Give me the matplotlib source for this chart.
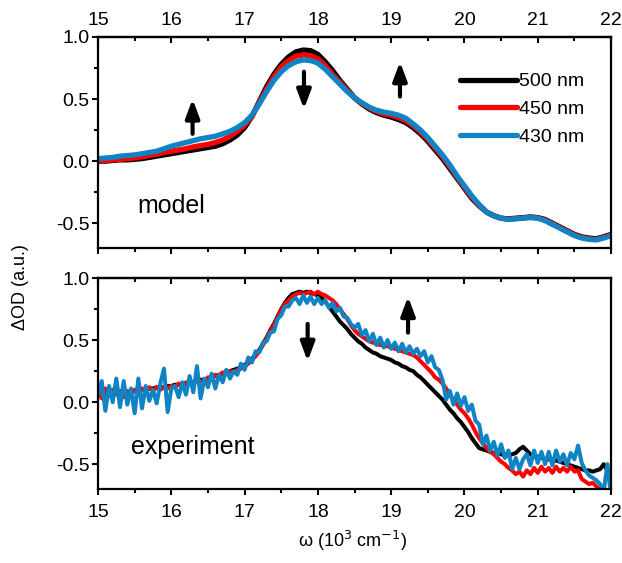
import numpy as np
import matplotlib.pyplot as plt
from matplotlib.ticker import MultipleLocator

plt.rcParams['font.family'] = ['Liberation Sans', 'DejaVu Sans']

# model spectra, 0.1 steps from 15 to 22 (10^3 cm^-1)
model_500 = [0.00, 0.00, 0.005, 0.01, 0.01, 0.015, 0.02, 0.03, 0.04, 0.05,
             0.06, 0.07, 0.08, 0.09, 0.10, 0.11, 0.12, 0.14, 0.17, 0.21,
             0.27, 0.36, 0.48, 0.60, 0.70, 0.78, 0.84, 0.88, 0.895, 0.89,
             0.86, 0.80, 0.73, 0.65, 0.58, 0.51, 0.46, 0.42, 0.39, 0.37,
             0.355, 0.335, 0.31, 0.27, 0.22, 0.16, 0.09, 0.02, -0.06, -0.14,
             -0.22, -0.30, -0.36, -0.41, -0.44, -0.46, -0.465, -0.46, -0.455, -0.45,
             -0.455, -0.47, -0.50, -0.53, -0.56, -0.59, -0.61, -0.62, -0.625, -0.61,
             -0.59]
model_450 = [0.005, 0.005, 0.01, 0.015, 0.02, 0.025, 0.035, 0.045, 0.055, 0.07,
             0.08, 0.09, 0.10, 0.115, 0.125, 0.135, 0.15, 0.17, 0.20, 0.24,
             0.29, 0.36, 0.47, 0.58, 0.68, 0.76, 0.81, 0.845, 0.855, 0.85,
             0.825, 0.77, 0.70, 0.635, 0.57, 0.51, 0.465, 0.43, 0.40, 0.38,
             0.37, 0.35, 0.325, 0.285, 0.235, 0.175, 0.105, 0.035, -0.045, -0.13,
             -0.21, -0.29, -0.355, -0.41, -0.44, -0.46, -0.468, -0.463, -0.458, -0.453,
             -0.458, -0.475, -0.505, -0.535, -0.565, -0.595, -0.615, -0.625, -0.63, -0.615,
             -0.595]
model_430 = [0.02, 0.025, 0.03, 0.04, 0.045, 0.05, 0.06, 0.07, 0.08, 0.10,
             0.12, 0.135, 0.15, 0.165, 0.18, 0.19, 0.20, 0.22, 0.24, 0.27,
             0.31, 0.37, 0.46, 0.56, 0.65, 0.72, 0.77, 0.80, 0.815, 0.81,
             0.79, 0.74, 0.68, 0.62, 0.56, 0.51, 0.47, 0.435, 0.41, 0.395,
             0.385, 0.37, 0.345, 0.30, 0.25, 0.19, 0.12, 0.05, -0.03, -0.12,
             -0.20, -0.28, -0.35, -0.41, -0.44, -0.46, -0.47, -0.465, -0.46, -0.455,
             -0.46, -0.48, -0.51, -0.54, -0.57, -0.60, -0.62, -0.63, -0.635, -0.62,
             -0.60]
w_model = np.linspace(15, 22, len(model_500))

# measured spectra, 0.05 steps from 15 to 22
exp_500 = [0.08, 0.10, 0.07, 0.09, 0.08, 0.08, 0.09, 0.07, 0.08, 0.08,
           0.09, 0.09, 0.10, 0.10, 0.11, 0.11, 0.12, 0.12, 0.12, 0.13,
           0.13, 0.14, 0.14, 0.15, 0.15, 0.16, 0.16, 0.17, 0.18, 0.18,
           0.19, 0.20, 0.21, 0.22, 0.23, 0.24, 0.25, 0.26, 0.27, 0.28,
           0.30, 0.32, 0.35, 0.38, 0.42, 0.47, 0.52, 0.58, 0.63, 0.69,
           0.75, 0.80, 0.84, 0.87, 0.88, 0.89, 0.88, 0.89, 0.88, 0.87,
           0.86, 0.84, 0.81, 0.77, 0.73, 0.69, 0.65, 0.62, 0.59, 0.55,
           0.52, 0.49, 0.47, 0.44, 0.42, 0.40, 0.39, 0.37, 0.36, 0.35,
           0.34, 0.32, 0.31, 0.29, 0.28, 0.26, 0.25, 0.22, 0.20, 0.17,
           0.14, 0.11, 0.08, 0.05, 0.02, -0.02, -0.06, -0.09, -0.13, -0.16,
           -0.20, -0.24, -0.29, -0.33, -0.37, -0.38, -0.39, -0.40, -0.41, -0.42,
           -0.42, -0.43, -0.43, -0.42, -0.41, -0.38, -0.36, -0.39, -0.42, -0.44,
           -0.44, -0.45, -0.46, -0.46, -0.47, -0.47, -0.48, -0.49, -0.50, -0.51,
           -0.52, -0.53, -0.54, -0.55, -0.55, -0.56, -0.55, -0.54, -0.50, -0.55,
           -0.57]
exp_450 = [0.10, 0.03, 0.11, 0.05, 0.10, 0.06, 0.09, 0.04, 0.09, 0.06,
           0.10, 0.07, 0.11, 0.08, 0.12, 0.09, 0.12, 0.10, 0.12, 0.11,
           0.13, 0.12, 0.15, 0.12, 0.16, 0.15, 0.14, 0.18, 0.17, 0.16,
           0.20, 0.19, 0.22, 0.21, 0.24, 0.23, 0.25, 0.24, 0.26, 0.27,
           0.29, 0.31, 0.34, 0.37, 0.41, 0.46, 0.51, 0.57, 0.62, 0.68,
           0.74, 0.79, 0.82, 0.85, 0.87, 0.88, 0.87, 0.88, 0.89, 0.87,
           0.89, 0.87, 0.86, 0.84, 0.82, 0.79, 0.75, 0.71, 0.67, 0.62,
           0.58, 0.55, 0.53, 0.51, 0.49, 0.48, 0.47, 0.46, 0.46, 0.45,
           0.44, 0.43, 0.42, 0.41, 0.40, 0.39, 0.38, 0.36, 0.33, 0.30,
           0.27, 0.24, 0.20, 0.18, 0.15, 0.11, 0.06, 0.02, -0.02, -0.06,
           -0.09, -0.13, -0.18, -0.24, -0.29, -0.33, -0.37, -0.40, -0.42, -0.45,
           -0.48, -0.50, -0.53, -0.55, -0.58, -0.56, -0.60, -0.55, -0.58, -0.53,
           -0.57, -0.52, -0.56, -0.53, -0.57, -0.52, -0.56, -0.53, -0.56, -0.52,
           -0.56, -0.55, -0.62, -0.64, -0.66, -0.65, -0.68, -0.70, -0.72, -0.73,
           -0.74]
exp_430 = [0.05, 0.17, -0.07, 0.13, 0.00, 0.19, -0.04, 0.17, -0.02, 0.11,
           -0.09, 0.19, -0.05, 0.13, 0.01, 0.10, -0.01, 0.15, 0.27, -0.08,
           0.11, 0.13, 0.04, 0.16, 0.06, 0.21, 0.08, 0.29, 0.03, 0.19,
           0.12, 0.23, 0.11, 0.22, 0.16, 0.26, 0.19, 0.25, 0.22, 0.31,
           0.26, 0.36, 0.32, 0.41, 0.40, 0.48, 0.49, 0.56, 0.57, 0.67,
           0.70, 0.77, 0.77, 0.82, 0.84, 0.79, 0.86, 0.80, 0.85, 0.79,
           0.84, 0.79, 0.82, 0.76, 0.80, 0.73, 0.76, 0.69, 0.68, 0.63,
           0.60, 0.63, 0.54, 0.58, 0.49, 0.55, 0.46, 0.52, 0.44, 0.50,
           0.43, 0.48, 0.41, 0.47, 0.40, 0.45, 0.39, 0.43, 0.37, 0.41,
           0.32, 0.37, 0.28, 0.26, 0.18, 0.02, 0.09, -0.02, 0.07, -0.03,
           0.04, -0.07, -0.02, -0.15, -0.18, -0.34, -0.27, -0.39, -0.32, -0.43,
           -0.34, -0.45, -0.39, -0.54, -0.45, -0.54, -0.46, -0.42, -0.51, -0.39,
           -0.49, -0.40, -0.50, -0.40, -0.51, -0.39, -0.48, -0.42, -0.51, -0.41,
           -0.46, -0.35, -0.49, -0.55, -0.59, -0.61, -0.63, -0.66, -0.72, -0.50,
           -0.76]
w_exp = np.linspace(15, 22, len(exp_500))

labels = ["500 nm", "450 nm", "430 nm"]
colors = ["black", "#ff0000", "#0f84c4"]

fig = plt.figure(figsize=(6.22, 5.63), dpi=100)
ax1 = fig.add_axes([0.1576, 0.5595, 0.8248, 0.3748])
ax2 = fig.add_axes([0.1576, 0.1314, 0.8248, 0.3748])

for y, c, lab in zip([model_500, model_450, model_430], colors, labels):
    ax1.plot(w_model, y, color=c, lw=3.8, label=lab, solid_capstyle='round')
for y, c in zip([exp_500, exp_450, exp_430], colors):
    ax2.plot(w_exp, y, color=c, lw=2.9)

for ax in (ax1, ax2):
    ax.set_xlim(15, 22)
    ax.set_ylim(-0.7, 1.0)
    ax.xaxis.set_major_locator(MultipleLocator(1))
    ax.xaxis.set_minor_locator(MultipleLocator(0.5))
    ax.set_yticks([-0.5, 0.0, 0.5, 1.0])
    ax.set_yticklabels(["-0.5", "0.0", "0.5", "1.0"])
    ax.yaxis.set_minor_locator(MultipleLocator(0.25))
    for s in ax.spines.values():
        s.set_linewidth(1.6)
    ax.tick_params(axis='both', which='both', direction='out', width=1.5,
                   labelsize=14, top=False, right=False)
    ax.tick_params(axis='both', which='major', length=4.5)
    ax.tick_params(axis='both', which='minor', length=3)
    ax.tick_params(axis='y', pad=1.5)
    ax.tick_params(axis='x', pad=6)
    # inward ticks along the top edge
    top = ax.secondary_xaxis('top')
    top.xaxis.set_major_locator(MultipleLocator(1))
    top.xaxis.set_minor_locator(MultipleLocator(0.5))
    top.spines['top'].set_linewidth(1.6)
    top.tick_params(which='both', direction='in', width=1.5, labelsize=14, pad=6)
    top.tick_params(which='major', length=4.5)
    top.tick_params(which='minor', length=3)
    if ax is ax1:
        ax.tick_params(axis='x', labelbottom=False)
    else:
        top.tick_params(labeltop=False)

ax1.text(15.53, -0.36, "model", fontsize=18, va='center', ha='left')
ax2.text(15.45, -0.36, "experiment", fontsize=18, va='center', ha='left')

arrow = dict(arrowstyle='-|>,head_width=0.3,head_length=0.8', lw=3, color='black',
             mutation_scale=14, shrinkA=0, shrinkB=0)
ax1.annotate('', xy=(16.29, 0.50), xytext=(16.29, 0.22), arrowprops=arrow)
ax1.annotate('', xy=(17.81, 0.42), xytext=(17.81, 0.72), arrowprops=arrow)
ax1.annotate('', xy=(19.12, 0.80), xytext=(19.12, 0.52), arrowprops=arrow)
ax2.annotate('', xy=(17.86, 0.33), xytext=(17.86, 0.63), arrowprops=arrow)
ax2.annotate('', xy=(19.23, 0.85), xytext=(19.23, 0.56), arrowprops=arrow)

ax1.legend(loc='upper left', bbox_to_anchor=(0.706, 0.83), frameon=False,
           fontsize=14, handlelength=2.9, handletextpad=0.12, labelspacing=0.52,
           borderpad=0, borderaxespad=0)

fig.text(0.033, 0.49, "ΔOD (a.u.)", rotation=90, fontsize=13, va='center', ha='center')
fig.text(0.567, 0.018, "ω (10$^3$ cm$^{-1}$)", fontsize=13, va='bottom', ha='center')

fig.savefig("out.png", dpi=100)
